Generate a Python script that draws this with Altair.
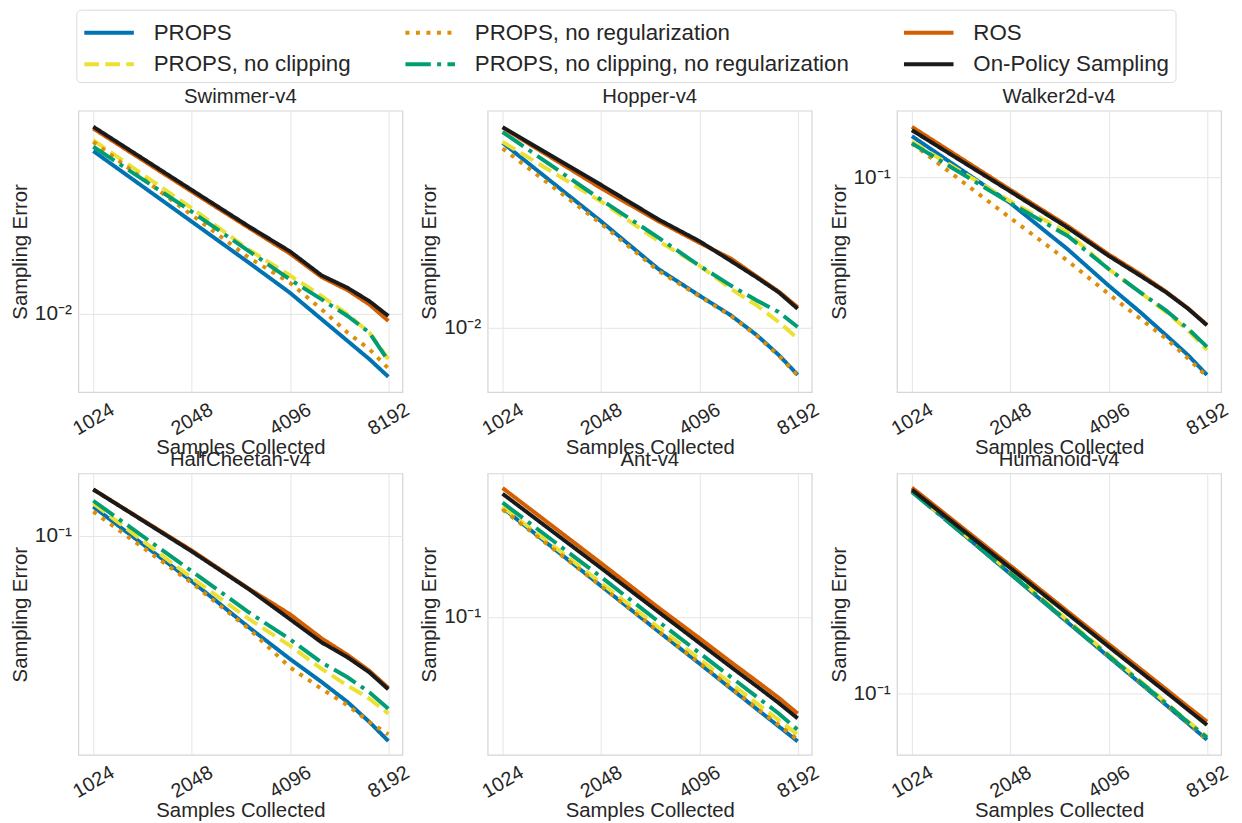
import altair as alt
import pandas as pd

samples = [1024, 2048, 3072, 4096, 5120, 6144, 7168, 8192]
x_ticks = [1024, 2048, 4096, 8192]
series_names = [
    "PROPS",
    "PROPS, no clipping",
    "PROPS, no regularization",
    "PROPS, no clipping, no regularization",
    "ROS",
    "On-Policy Sampling",
]
env_names = ["Swimmer-v4", "Hopper-v4", "Walker2d-v4", "HalfCheetah-v4", "Ant-v4", "Humanoid-v4"]

# ---- Swimmer-v4
swimmer_props = [0.0600, 0.0276, 0.0175, 0.01259, 0.0094, 0.00741, 0.00606, 0.00499]
swimmer_noclip = [0.0676, 0.0320, 0.0202, 0.01523, 0.01214, 0.00993, 0.00812, 0.00606]
swimmer_noreg = [0.0664, 0.0297, 0.0185, 0.01405, 0.01049, 0.00812, 0.00676, 0.00547]
swimmer_noclip_noreg = [0.0629, 0.0308, 0.01988, 0.01457, 0.0117, 0.00975, 0.00812, 0.00595]
swimmer_ros = [0.0769, 0.0384, 0.0257, 0.01938, 0.01496, 0.01297, 0.01107, 0.00923]
swimmer_onpolicy = [0.0784, 0.0391, 0.0261, 0.01986, 0.01524, 0.0133, 0.01148, 0.00975]

# ---- Hopper-v4
hopper_props = [0.0832, 0.0339, 0.0196, 0.01449, 0.01154, 0.00920, 0.00734, 0.00585]
hopper_noclip = [0.0840, 0.0425, 0.0270, 0.0204, 0.01563, 0.01293, 0.01070, 0.00886]
hopper_noreg = [0.0779, 0.0330, 0.0192, 0.01438, 0.01146, 0.00913, 0.00728, 0.00580]
hopper_noclip_noreg = [0.0941, 0.0434, 0.0281, 0.0204, 0.01623, 0.01369, 0.01199, 0.01011]
hopper_ros = [0.0990, 0.0495, 0.0339, 0.0265, 0.0221, 0.0180, 0.01516, 0.01268]
hopper_onpolicy = [0.0995, 0.0514, 0.0346, 0.0270, 0.0215, 0.0178, 0.01503, 0.01245]

# ---- Walker2d-v4
walker_props = [0.1554, 0.0762, 0.0465, 0.0316, 0.0238, 0.01860, 0.01506, 0.01219]
walker_noclip = [0.1463, 0.0776, 0.0555, 0.0377, 0.0294, 0.0238, 0.0196, 0.01588]
walker_noreg = [0.1438, 0.0650, 0.0411, 0.0289, 0.0222, 0.01795, 0.01453, 0.01197]
walker_noclip_noreg = [0.1438, 0.0762, 0.0536, 0.0377, 0.0294, 0.0242, 0.01995, 0.01644]
walker_ros = [0.1715, 0.0878, 0.0596, 0.0441, 0.0357, 0.0296, 0.0248, 0.0208]
walker_onpolicy = [0.1656, 0.0862, 0.0585, 0.0434, 0.0351, 0.0294, 0.0247, 0.0207]

# ---- HalfCheetah-v4
cheetah_props = [0.1349, 0.0622, 0.0384, 0.0277, 0.0218, 0.01771, 0.01439, 0.01180]
cheetah_noclip = [0.1396, 0.0644, 0.0419, 0.0318, 0.0250, 0.0210, 0.01833, 0.01570]
cheetah_noreg = [0.1281, 0.0611, 0.0378, 0.0254, 0.0203, 0.01711, 0.01439, 0.01264]
cheetah_noclip_noreg = [0.1435, 0.0690, 0.0449, 0.0340, 0.0267, 0.0229, 0.0196, 0.01653]
cheetah_ros = [0.1614, 0.0857, 0.0574, 0.0441, 0.0343, 0.0289, 0.0245, 0.0205]
cheetah_onpolicy = [0.1614, 0.0848, 0.0571, 0.0419, 0.0329, 0.0282, 0.0241, 0.0202]

# ---- Ant-v4
ant_props = [0.2743, 0.1333, 0.0874, 0.0650, 0.0515, 0.0426, 0.0363, 0.0316]
ant_noclip = [0.2768, 0.1370, 0.0907, 0.0678, 0.0539, 0.0449, 0.0385, 0.0336]
ant_noreg = [0.2703, 0.1330, 0.0874, 0.0654, 0.0518, 0.0429, 0.0368, 0.0321]
ant_noclip_noreg = [0.2879, 0.1448, 0.0958, 0.0717, 0.0573, 0.0477, 0.0409, 0.0352]
ant_ros = [0.3296, 0.1646, 0.1089, 0.0822, 0.0658, 0.0551, 0.0473, 0.0409]
ant_onpolicy = [0.3126, 0.1573, 0.1047, 0.0786, 0.0629, 0.0526, 0.0451, 0.0391]

# ---- Humanoid-v4
humanoid_props = [0.5999, 0.2884, 0.1877, 0.1387, 0.1098, 0.0906, 0.0769, 0.0667]
humanoid_noclip = [0.5999, 0.2930, 0.1910, 0.1415, 0.1120, 0.0925, 0.0785, 0.0686]
humanoid_noreg = [0.5999, 0.2900, 0.1885, 0.1392, 0.1102, 0.0910, 0.0772, 0.0670]
humanoid_noclip_noreg = [0.5945, 0.2900, 0.1890, 0.1400, 0.1110, 0.0918, 0.0778, 0.0680]
humanoid_ros = [0.6180, 0.3104, 0.2069, 0.1554, 0.1248, 0.1041, 0.0892, 0.0783]
humanoid_onpolicy = [0.6067, 0.3040, 0.2026, 0.1518, 0.1216, 0.1015, 0.0869, 0.0760]

env_series = {
    "Swimmer-v4": [swimmer_props, swimmer_noclip, swimmer_noreg, swimmer_noclip_noreg, swimmer_ros, swimmer_onpolicy],
    "Hopper-v4": [hopper_props, hopper_noclip, hopper_noreg, hopper_noclip_noreg, hopper_ros, hopper_onpolicy],
    "Walker2d-v4": [walker_props, walker_noclip, walker_noreg, walker_noclip_noreg, walker_ros, walker_onpolicy],
    "HalfCheetah-v4": [cheetah_props, cheetah_noclip, cheetah_noreg, cheetah_noclip_noreg, cheetah_ros, cheetah_onpolicy],
    "Ant-v4": [ant_props, ant_noclip, ant_noreg, ant_noclip_noreg, ant_ros, ant_onpolicy],
    "Humanoid-v4": [humanoid_props, humanoid_noclip, humanoid_noreg, humanoid_noclip_noreg, humanoid_ros, humanoid_onpolicy],
}

# y-axis ranges and the single labelled decade of each panel
y_domains = {
    "Swimmer-v4": [0.00421, 0.0935],
    "Hopper-v4": [0.00479, 0.120],
    "Walker2d-v4": [0.01014, 0.2037],
    "HalfCheetah-v4": [0.01021, 0.1905],
    "Ant-v4": [0.02786, 0.3771],
    "Humanoid-v4": [0.0583, 0.700],
}
y_ticks = {
    "Swimmer-v4": 0.01,
    "Hopper-v4": 0.01,
    "Walker2d-v4": 0.1,
    "HalfCheetah-v4": 0.1,
    "Ant-v4": 0.1,
    "Humanoid-v4": 0.1,
}

rows = []
for env in env_names:
    for name, vals in zip(series_names, env_series[env]):
        for s, v in zip(samples, vals):
            rows.append({"env": env, "series": name, "samples": s, "error": v})
df = pd.DataFrame(rows)

colors = {
    "PROPS": "#0173B2",
    "PROPS, no clipping": "#ECE133",
    "PROPS, no regularization": "#DE8F05",
    "PROPS, no clipping, no regularization": "#029E73",
    "ROS": "#D55E00",
    "On-Policy Sampling": "#1a1a1a",
}
dashes = {
    "PROPS": [1, 0],
    "PROPS, no clipping": [14.8, 6.4],
    "PROPS, no regularization": [4, 6.6],
    "PROPS, no clipping, no regularization": [25.6, 6.4, 4, 6.4],
    "ROS": [1, 0],
    "On-Policy Sampling": [1, 0],
}
# the legend fills its grid column by column
legend_order = series_names
color_scale = alt.Scale(domain=legend_order, range=[colors[s] for s in legend_order])
dash_scale = alt.Scale(domain=legend_order, range=[dashes[s] for s in legend_order])

FONT = "Liberation Sans"
TXT = "#262626"

legend_spec = alt.Legend(
    title=None,
    orient="none",
    legendX=-2,
    legendY=-102,
    columns=3,
    symbolType="M-1,0H2.333",
    symbolSize=900,
    symbolStrokeWidth=4,
    labelFontSize=22.5,
    labelFont=FONT,
    labelColor=TXT,
    labelLimit=0,
    labelOffset=38,
    strokeColor="#dcdcdc",
    fillColor="white",
    cornerRadius=4,
    padding=6,
    rowPadding=3,
    columnPadding=47,
)


def panel(env):
    base = alt.Chart(df[df.env == env])
    x = alt.X(
        "samples:Q",
        scale=alt.Scale(type="log", base=2, domain=[922, 9050], nice=False, zero=False),
        axis=alt.Axis(
            values=x_ticks,
            format="d",
            labelAngle=-30,
            labelAlign="center",
            labelBaseline="middle",
            labelPadding=27,
            labelOverlap=False,
            labelFlush=False,
            title="Samples Collected",
            titlePadding=-1,
        ),
    )
    y = alt.Y(
        "error:Q",
        scale=alt.Scale(type="log", domain=y_domains[env], nice=False),
        axis=alt.Axis(
            values=[y_ticks[env]],
            labelExpr="datum.value < 0.05 ? '10\u207b\u00b2' : '10\u207b\u00b9'",
            labelPadding=7,
            labelFontSize=21,
            labelOverlap=False,
            title="Sampling Error",
            titlePadding=4,
        ),
    )
    layers = []
    for s in series_names:
        layers.append(
            base.transform_filter(alt.datum.series == s)
            .mark_line(strokeWidth=4, strokeCap="butt", clip=True)
            .encode(
                x=x,
                y=y,
                color=alt.Color("series:N", scale=color_scale, legend=legend_spec),
                strokeDash=alt.StrokeDash("series:N", scale=dash_scale, legend=legend_spec),
            )
        )
    return alt.layer(*layers).properties(width=327, height=284, title=env)


chart = (
    alt.concat(
        *[panel(e) for e in env_names],
        columns=3,
        spacing=alt.RowColnumber(row=82, column=86),
        bounds="flush",
    )
    .properties(padding={"left": 2, "top": -3, "right": 2, "bottom": 2})
    .configure_view(stroke="#d6d6d6", strokeWidth=1.25)
    .configure_axis(
        domain=False,
        ticks=False,
        tickSize=0,
        grid=True,
        gridColor="#e5e5e5",
        gridWidth=1,
        labelFont=FONT,
        labelFontSize=20,
        labelColor=TXT,
        titleFont=FONT,
        titleFontSize=20.5,
        titleFontWeight="normal",
        titleColor=TXT,
    )
    .configure_title(font=FONT, fontSize=20.5, fontWeight="normal", color=TXT, offset=3)
)

chart.save("out.html", embed_options={"renderer": "svg", "actions": False})
